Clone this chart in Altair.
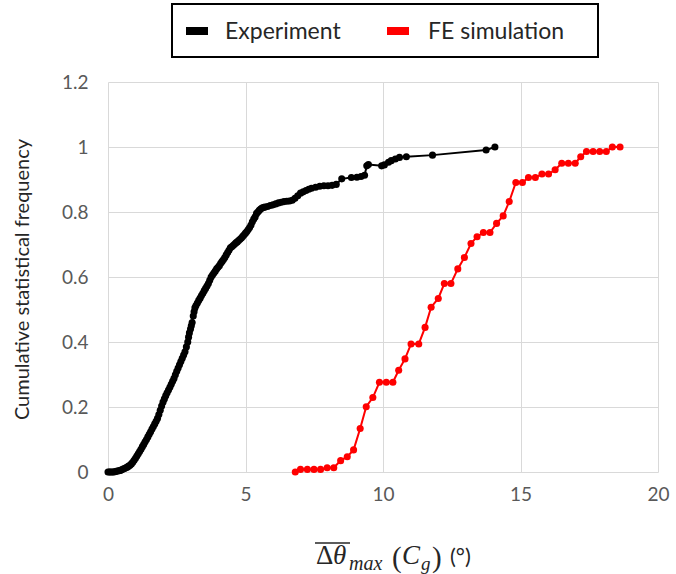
import altair as alt
import pandas as pd

# Experimental cumulative distribution
exp_x = [0.0, 0.05, 0.1, 0.15, 0.2, 0.25, 0.3, 0.35, 0.4, 0.45, 0.5, 0.55, 0.6, 0.65,
         0.7, 0.75, 0.8, 0.85, 0.9, 0.95, 1.0, 1.05, 1.1, 1.15, 1.2, 1.25, 1.3, 1.35,
         1.4, 1.45, 1.5, 1.55, 1.6, 1.65, 1.7, 1.75, 1.8, 1.85, 1.9, 1.95, 2.0, 2.05,
         2.1, 2.15, 2.2, 2.25, 2.3, 2.35, 2.4, 2.45, 2.5, 2.55, 2.6, 2.65, 2.7, 2.75,
         2.8, 2.85, 2.9, 2.93, 2.96, 3.0, 3.03, 3.06, 3.1, 3.13, 3.16, 3.2, 3.25, 3.3,
         3.35, 3.4, 3.45, 3.5, 3.55, 3.6, 3.65, 3.7, 3.75, 3.8, 3.85, 3.9, 3.95, 4.0,
         4.05, 4.1, 4.15, 4.2, 4.25, 4.3, 4.35, 4.4, 4.45, 4.5, 4.55, 4.6, 4.65, 4.7,
         4.75, 4.8, 4.85, 4.9, 4.95, 5.0, 5.05, 5.1, 5.15, 5.2, 5.25, 5.3, 5.35, 5.4,
         5.45, 5.5, 5.55, 5.6, 5.65, 5.7, 5.8, 5.9, 6.0, 6.1, 6.2, 6.3, 6.4, 6.5, 6.6,
         6.7, 6.8, 6.9, 7.0, 7.1, 7.2, 7.3, 7.4, 7.55, 7.7, 7.85, 8.0, 8.15, 8.3, 8.5,
         8.85, 9.05, 9.2, 9.33, 9.41, 9.47, 9.95, 10.05, 10.2, 10.3, 10.45, 10.6, 10.85,
         11.8, 13.75, 14.07]
exp_y = [0.0, 0.0, 0.0, 0.0, 0.0, 0.001, 0.002, 0.003, 0.004, 0.005, 0.007, 0.009,
         0.011, 0.013, 0.015, 0.018, 0.021, 0.025, 0.03, 0.036, 0.042, 0.049, 0.056,
         0.063, 0.07, 0.078, 0.085, 0.093, 0.1, 0.108, 0.116, 0.124, 0.132, 0.14, 0.148,
         0.156, 0.165, 0.177, 0.19, 0.203, 0.215, 0.225, 0.235, 0.244, 0.252, 0.261,
         0.27, 0.279, 0.288, 0.299, 0.31, 0.32, 0.33, 0.34, 0.35, 0.36, 0.37, 0.385,
         0.4, 0.415, 0.428, 0.44, 0.45, 0.46, 0.48, 0.493, 0.505, 0.512, 0.52, 0.528,
         0.535, 0.543, 0.55, 0.558, 0.565, 0.572, 0.58, 0.59, 0.6, 0.606, 0.612, 0.618,
         0.625, 0.63, 0.635, 0.642, 0.648, 0.654, 0.66, 0.668, 0.675, 0.682, 0.69,
         0.693, 0.697, 0.701, 0.705, 0.708, 0.712, 0.716, 0.72, 0.725, 0.73, 0.735,
         0.74, 0.746, 0.752, 0.76, 0.77, 0.778, 0.785, 0.795, 0.8, 0.805, 0.809, 0.812,
         0.814, 0.815, 0.817, 0.82, 0.822, 0.825, 0.828, 0.83, 0.832, 0.833, 0.834,
         0.836, 0.842, 0.85, 0.858, 0.862, 0.866, 0.87, 0.873, 0.876, 0.879, 0.881,
         0.881, 0.882, 0.885, 0.902, 0.906, 0.907, 0.909, 0.913, 0.942, 0.946, 0.942,
         0.945, 0.953, 0.958, 0.963, 0.968, 0.97, 0.975, 0.991, 1.0]

# Finite-element simulation cumulative distribution
fe_x = [6.81, 7.0, 7.25, 7.49, 7.73, 7.97, 8.21, 8.46, 8.70, 8.93, 9.17, 9.39, 9.63,
        9.87, 10.12, 10.36, 10.57, 10.8, 11.02, 11.3, 11.53, 11.75, 12.01, 12.23, 12.47,
        12.72, 12.96, 13.2, 13.42, 13.65, 13.89, 14.13, 14.37, 14.59, 14.83, 15.07,
        15.29, 15.54, 15.78, 16.02, 16.26, 16.5, 16.74, 16.99, 17.19, 17.4, 17.64,
        17.88, 18.12, 18.34, 18.62]
fe_y = [0.0, 0.008, 0.008, 0.008, 0.008, 0.013, 0.013, 0.035, 0.047, 0.068, 0.134,
        0.201, 0.229, 0.276, 0.276, 0.276, 0.313, 0.348, 0.394, 0.394, 0.445, 0.507,
        0.534, 0.58, 0.58, 0.625, 0.66, 0.703, 0.724, 0.737, 0.737, 0.765, 0.788, 0.832,
        0.891, 0.891, 0.906, 0.906, 0.917, 0.917, 0.93, 0.95, 0.95, 0.95, 0.97, 0.986,
        0.986, 0.986, 0.986, 1.0, 1.0]

series_names = ["Experiment", "FE simulation"]
series_colors = ["#000000", "#ff0000"]
x_ticks = [0, 5, 10, 15, 20]
y_ticks = [0, 0.2, 0.4, 0.6, 0.8, 1.0, 1.2]

W, H = 550, 390
FONT = "Lato"
MATH = "Liberation Serif"

df = pd.concat([
    pd.DataFrame({"x": exp_x, "y": exp_y, "series": series_names[0],
                  "order": range(len(exp_x))}),
    pd.DataFrame({"x": fe_x, "y": fe_y, "series": series_names[1],
                  "order": range(len(fe_x))}),
], ignore_index=True)

color_scale = alt.Scale(domain=series_names, range=series_colors)

base = alt.Chart(df).encode(
    x=alt.X("x:Q", scale=alt.Scale(domain=[0, 20], nice=False, zero=False),
            axis=alt.Axis(values=x_ticks, title=None, labelPadding=13,
                          labelFlush=False)),
    y=alt.Y("y:Q", scale=alt.Scale(domain=[0, 1.2], nice=False),
            axis=alt.Axis(values=y_ticks, format="~g", labelPadding=20,
                          labelFlush=False,
                          title="Cumulative statistical frequency",
                          titleX=-86, titleY=197, titleAngle=-90,
                          titleAlign="center", titleBaseline="middle")),
    color=alt.Color("series:N", scale=color_scale, legend=None),
    order=alt.Order("order:Q"),
)
lines = base.mark_line(strokeWidth=2)
points = base.mark_circle(size=50, opacity=1)

# Boxed legend above the plot
legend_box = alt.Chart(alt.Data(values=[{}])).mark_rect(
    filled=False, stroke="#000000", strokeWidth=2
).encode(x=alt.value(64), x2=alt.value(490), y=alt.value(-78), y2=alt.value(-25))

legend_df = pd.DataFrame({"name": series_names, "color": series_colors})
swatch_x = [78, 279]
label_x = [117, 320]
legend_df["sx"] = swatch_x
legend_df["sx2"] = [v + 22 for v in swatch_x]
legend_df["tx"] = label_x

swatches = alt.Chart(legend_df).mark_rect().encode(
    x=alt.X("sx:Q", scale=None), x2="sx2:Q",
    y=alt.value(-55), y2=alt.value(-47),
    color=alt.Color("color:N", scale=None),
)
legend_labels = alt.Chart(legend_df).mark_text(
    align="left", baseline="alphabetic", font=FONT, fontSize=23, color="#262626"
).encode(x=alt.X("tx:Q", scale=None), y=alt.value(-43), text="name:N")

# x-axis title: overline(Δθ)_max (C_g) (°)
title_parts = [
    ("Δ", 208, 482, 27, "normal", MATH),
    ("θ", 225, 482, 27, "italic", MATH),
    ("max", 241, 488, 20, "italic", MATH),
    ("(", 284, 485, 29, "normal", MATH),
    ("C", 294, 482, 27, "italic", MATH),
    ("g", 313, 488, 19, "italic", MATH),
    (")", 324, 485, 29, "normal", MATH),
    ("(°)", 342, 482, 22, "normal", FONT),
]
title_layers = []
for t, px, py, fs, st, f in title_parts:
    title_layers.append(
        alt.Chart(alt.Data(values=[{"t": t}])).mark_text(
            align="left", baseline="alphabetic", font=f, fontSize=fs,
            fontStyle=st, color="#262626"
        ).encode(x=alt.value(px), y=alt.value(py), text="t:N")
    )
overline = alt.Chart(alt.Data(values=[{}])).mark_rule(
    color="#262626", strokeWidth=1.3
).encode(x=alt.value(207), x2=alt.value(242), y=alt.value(461))

chart = alt.layer(
    lines, points, legend_box, swatches, legend_labels, overline, *title_layers
).properties(
    width=W, height=H,
    padding={"left": 108, "top": 82, "right": 18, "bottom": 102},
    autosize=alt.AutoSizeParams(type="none"),
).configure(background="#ffffff").configure_view(stroke=None).configure_axis(
    domain=False, ticks=False, tickSize=0, gridColor="#d9d9d9", gridWidth=1,
    labelFont=FONT, labelFontSize=19, labelColor="#595959",
    titleFont=FONT, titleFontSize=20, titleColor="#262626", titleFontWeight="normal",
)

chart.save("out.html", embed_options={"renderer": "svg", "actions": False})
